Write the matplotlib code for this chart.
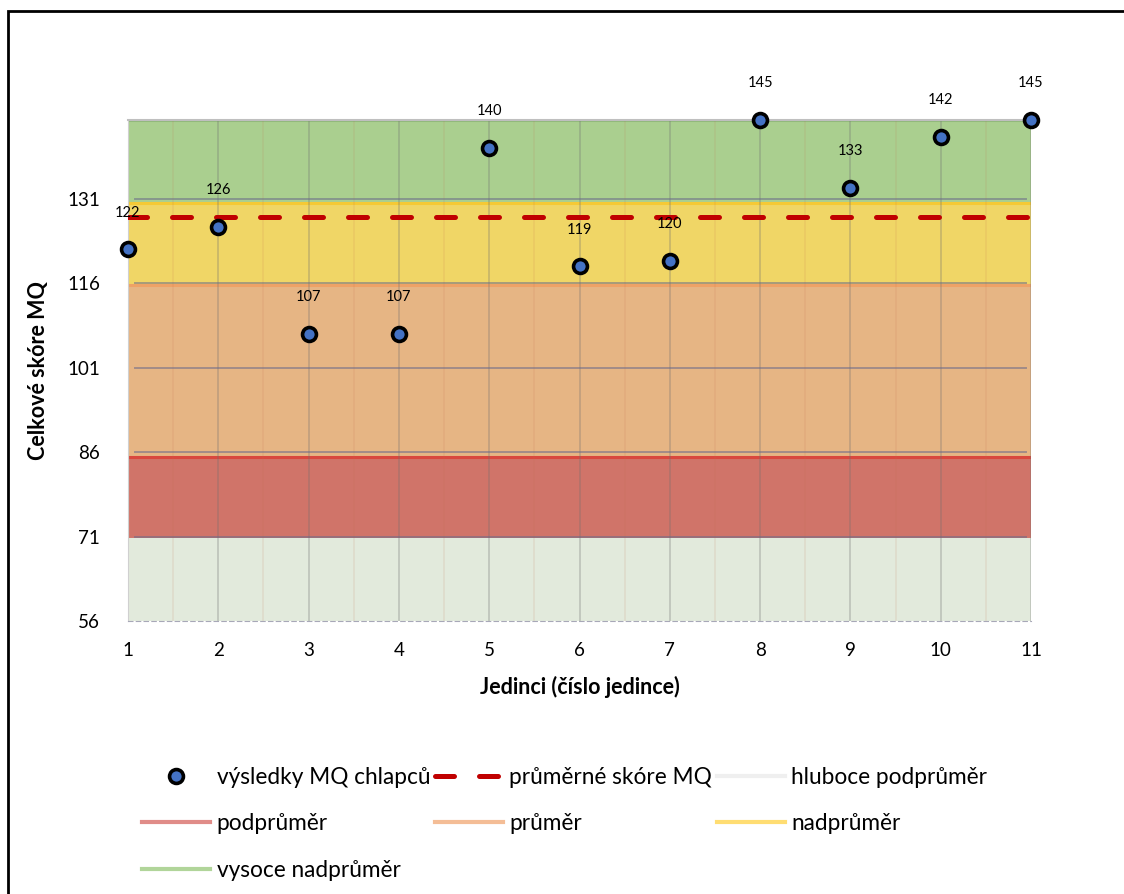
import matplotlib
matplotlib.use("Agg")
import matplotlib.pyplot as plt
from matplotlib.lines import Line2D
from matplotlib.patches import Rectangle
import numpy as np

plt.rcParams['font.family'] = ['Lato', 'DejaVu Sans']

# data
jedinci = [1, 2, 3, 4, 5, 6, 7, 8, 9, 10, 11]
skore = [122, 126, 107, 107, 140, 119, 120, 145, 133, 142, 145]
prumer = np.mean(skore)

# pasma (nazev, dolni, horni)
pasma_nazvy = ["hluboce podprůměr", "podprůměr", "průměr", "nadprůměr", "vysoce nadprůměr"]
pasma_dolni = [56, 70.6, 85.1, 115.6, 130.3]
pasma_horni = [70.6, 85.1, 115.6, 130.3, 145]
pasma_barvy = ["#e2eadc", "#d07469", "#e6b584", "#f0d666", "#aacf8f"]
pasma_okraje = ["#e2eadc", "#d9483e", "#eea266", "#f5c935", "#90b97a"]
legenda_barvy = ["#efefef", "#e08c88", "#f4bd96", "#ffdd72", "#b1d59a"]

yticks = [56, 71, 86, 101, 116, 131]

fig = plt.figure(figsize=(11.24, 8.94), dpi=100)
ax = fig.add_axes([128 / 1124, 1 - 621 / 894, (1031 - 128) / 1124, 501 / 894])

# bands
for lo, hi, c, e in zip(pasma_dolni, pasma_horni, pasma_barvy, pasma_okraje):
    ax.fill_between([jedinci[0], jedinci[-1]], lo, hi, color=c, lw=0, zorder=1)
    ax.plot([jedinci[0], jedinci[-1]], [hi, hi], color=e, lw=2.2, zorder=1.5)

# gridlines
for x in jedinci:
    ax.axvline(x, color="#6f6f6f", alpha=0.3, lw=1.3, zorder=2)
for x in np.array(jedinci[:-1]) + 0.5:
    ax.axvline(x, color="#c07050", alpha=0.12, lw=1.2, zorder=2)
for y in yticks[1:]:
    ax.plot([1.08, 10.95], [y, y], color="#6a6a8a", alpha=0.55, lw=1.4, zorder=2)

# mean line
ax.plot([jedinci[0], jedinci[-1]], [prumer, prumer], color="#c00000", lw=3.6,
        dashes=(3.8, 5), dash_capstyle="round", zorder=3)

# points
ax.plot(jedinci, skore, ls="none", marker="o", ms=10, mfc="#4472c4", mec="black",
        mew=2.6, zorder=5, clip_on=False)
for x, y in zip(jedinci, skore):
    ax.annotate(str(y), (x, y), xytext=(0, 26.5), textcoords="offset points",
                ha="center", va="center", fontsize=10.5, zorder=6)

ax.set_xlim(1, 11)
ax.set_ylim(56, 145)
ax.set_xticks(jedinci)
ax.set_yticks(yticks)
ax.tick_params(length=0, labelsize=13.5, pad=15)
ax.tick_params(axis="y", pad=20)
ax.spines["right"].set_visible(False)
ax.spines["left"].set_color("#d0d0d0")
ax.spines["top"].set_color("#bfbfbf")
ax.spines["top"].set_linewidth(1.5)
ax.spines["bottom"].set_color("#a8a8b8")
ax.spines["bottom"].set_linestyle((0, (4, 3)))
ax.set_xlabel("Jedinci (číslo jedince)", fontsize=15.5, fontweight="bold", labelpad=12)
ax.set_ylabel("Celkové skóre MQ", fontsize=15.5, fontweight="bold", labelpad=13)

# legend
handles = [
    Line2D([], [], ls="none", marker="o", ms=10, mfc="#4472c4", mec="black", mew=2.6),
    Line2D([], [], color="#c00000", lw=3.6, dashes=(3.8, 5), dash_capstyle="round"),
]
labels = ["výsledky MQ chlapců", "průměrné skóre MQ"]
for n, c in zip(pasma_nazvy, legenda_barvy):
    handles.append(Line2D([], [], color=c, lw=3))
    labels.append(n)
handles = [handles[0], handles[3], handles[6], handles[1], handles[4], handles[2], handles[5]]
labels = [labels[0], labels[3], labels[6], labels[1], labels[4], labels[2], labels[5]]
fig.legend(handles, labels, ncol=3, loc="upper left", bbox_to_anchor=(142 / 1124, 1 - 767 / 894),
           frameon=False, fontsize=16.3, handlelength=3, handletextpad=0.3,
           columnspacing=0.2, labelspacing=1.12, borderaxespad=0, borderpad=0)

# outer border
fig.patches.append(Rectangle((8 / 1124, -0.1), 1.2, 1 - 11 / 894 + 0.1,
                             transform=fig.transFigure, fill=False, ec="black", lw=2))

fig.savefig("out.png", dpi=100)
